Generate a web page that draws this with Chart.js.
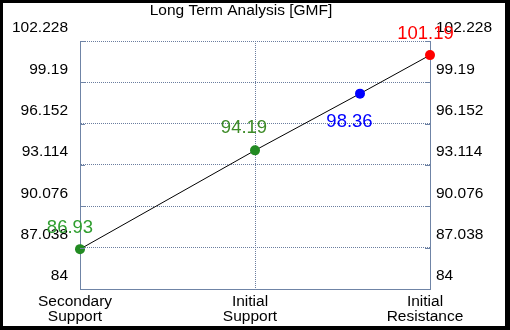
<!DOCTYPE html>
<html>
<head>
<meta charset="utf-8">
<script src="https://cdn.jsdelivr.net/npm/chart.js@4.4.1/dist/chart.umd.min.js"></script>
<style>
    html, body { margin: 0; padding: 0; background: #000; }
    #frame { position: absolute; left: 3px; top: 3px; width: 502px; height: 323px; background: #fff; }
</style>
</head>
<body>
<div id="frame"><canvas id="chart"></canvas></div>
<script>
const title = "Long Term Analysis [GMF]";
const categories = ["Secondary Support", "Initial Support", "Initial Resistance"];
const categoryX = [0, 1, 2];
const levelX = [0, 1, 1.6, 2];
const levelValues = [86.93, 94.19, 98.36, 101.19];
const yTicks = [84, 87.038, 90.076, 93.114, 96.152, 99.19, 102.228];

const FONT = "'Liberation Sans', Arial, sans-serif";
const AXIS = "#6f84a6";
const GRID = "#6a7d9f";
const pointColors = ["#228b22", "#228b22", "#0000ff", "#ff0000"];
const labelColors = ["#2f9e2f", "#3d8b27", "#0000ff", "#ff0000"];
// offset of each value label from its point (text centre)
const labelShift = [[-10, -21], [-11, -22], [-10.5, 28], [-4.5, -21.5]];

const fixTicks = list => scale => { scale.ticks = list.map(v => ({ value: v })); };

const valueLabels = {
    id: "valueLabels",
    afterDraw(chart) {
        const ctx = chart.ctx;
        const pts = chart.getDatasetMeta(0).data;
        ctx.save();
        ctx.font = "18.5px " + FONT;
        ctx.textAlign = "center";
        ctx.textBaseline = "middle";
        pts.forEach((p, i) => {
            ctx.fillStyle = labelColors[i];
            ctx.fillText(String(levelValues[i]), p.x + labelShift[i][0], p.y + labelShift[i][1]);
        });
        // title
        ctx.fillStyle = "#000";
        ctx.font = "15.5px " + FONT;
        ctx.textBaseline = "alphabetic";
        ctx.fillText(title, 238, 12);
        ctx.restore();
    },
    afterDatasetsDraw(chart) {
        // short inward tick marks on both value axes
        const { ctx, chartArea } = chart;
        const y = chart.scales.y;
        ctx.save();
        ctx.strokeStyle = AXIS;
        ctx.lineWidth = 1;
        ctx.beginPath();
        for (const v of yTicks) {
            const py = Math.round(y.getPixelForValue(v)) + 0.5;
            ctx.moveTo(chartArea.left, py); ctx.lineTo(chartArea.left + 5, py);
            ctx.moveTo(chartArea.right, py); ctx.lineTo(chartArea.right - 5, py);
        }
        ctx.stroke();
        ctx.restore();
    },
};

const yAxis = (side, w, pad) => ({
    type: "linear",
    position: side,
    min: yTicks[0],
    max: yTicks[yTicks.length - 1],
    afterBuildTicks: fixTicks(yTicks),
    afterFit: s => { s.width = w; s.paddingTop = 0; s.paddingBottom = 0; },
    ticks: {
        color: "#000",
        font: { family: FONT, size: 15.5 },
        padding: pad,
        labelOffset: -13,
        callback: v => String(v),
    },
    grid: { display: side === "left", color: GRID, lineWidth: 1, drawTicks: false },
    border: { display: true, color: AXIS, width: 1, dash: [1, 1] },
});

new Chart(document.getElementById("chart"), {
    type: "scatter",
    data: {
        datasets: [{
            data: levelX.map((x, i) => ({ x, y: levelValues[i] })),
            showLine: true,
            borderColor: "#000",
            borderWidth: 1,
            pointRadius: 5,
            pointHoverRadius: 5,
            pointBorderWidth: 0,
            pointBackgroundColor: pointColors,
            clip: false,
        }],
    },
    options: {
        responsive: true,
        maintainAspectRatio: false,
        animation: false,
        layout: { padding: { top: 38, left: 0, right: 0, bottom: 0 } },
        plugins: { legend: { display: false }, tooltip: { enabled: false }, title: { display: false } },
        scales: {
            x: {
                type: "linear",
                min: 0,
                max: 2,
                afterBuildTicks: fixTicks(categoryX),
                afterFit: s => { s.height = 37; s.paddingLeft = 0; s.paddingRight = 0; },
                ticks: {
                    color: "#000",
                    font: { family: FONT, size: 15.5, lineHeight: 0.92 },
                    padding: 6,
                    labelOffset: -5,
                    maxRotation: 0,
                    autoSkip: false,
                    callback: v => categories[categoryX.indexOf(v)].split(" "),
                },
                grid: { color: GRID, lineWidth: 1, drawTicks: false },
                border: { display: true, color: AXIS, width: 1, dash: [1, 1] },
            },
            y: yAxis("left", 77, 12),
            y2: yAxis("right", 75, 6),
        },
    },
    plugins: [valueLabels],
});
</script>
</body>
</html>
